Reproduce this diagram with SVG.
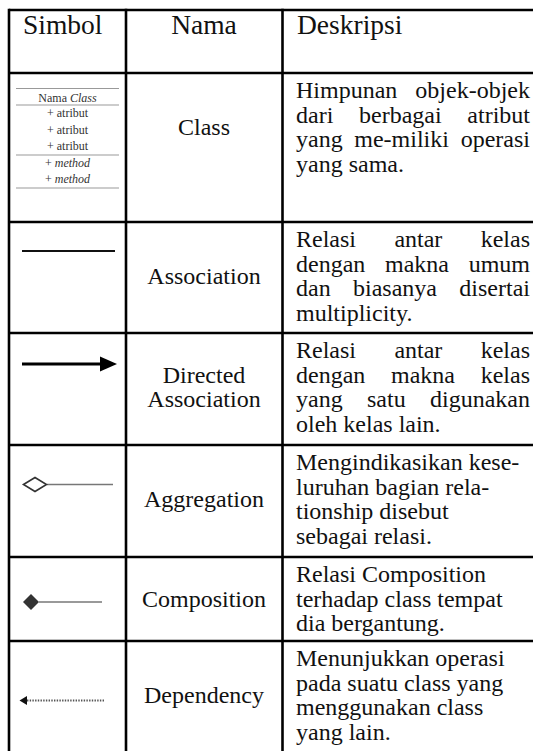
<svg xmlns="http://www.w3.org/2000/svg" width="533" height="751" viewBox="0 0 533 751">
  <style>
    .grid { stroke: #000; stroke-width: 2.6; fill: none; }
    .hd { font-family: "Liberation Serif", "Times New Roman", serif; font-size: 27.5px; fill: #111; }
    .nm { font-family: "Liberation Serif", "Times New Roman", serif; font-size: 24px; fill: #111; text-anchor: middle; }
    .d { font-family: "Liberation Serif", "Times New Roman", serif; font-size: 24px; fill: #111; }
    .e { text-anchor: end; }
    .cls { font-family: "Liberation Serif", "Times New Roman", serif; font-size: 12px; fill: #333; text-anchor: middle; }
    .cline { stroke: #999; stroke-width: 1.2; }
    .thin { stroke: #777; stroke-width: 1.6; fill: none; }
  </style>

  <rect width="533" height="751" fill="#fff"/>

  <!-- table grid -->
  <g id="grid" class="grid">
    <line x1="9" y1="10" x2="533" y2="10"/>
    <line x1="9" y1="73" x2="533" y2="73"/>
    <line x1="9" y1="222" x2="533" y2="222"/>
    <line x1="9" y1="333" x2="533" y2="333"/>
    <line x1="9" y1="445" x2="533" y2="445"/>
    <line x1="9" y1="557" x2="533" y2="557"/>
    <line x1="9" y1="641" x2="533" y2="641"/>
    <line x1="9" y1="8.7" x2="9" y2="751"/>
    <line x1="126" y1="8.7" x2="126" y2="751"/>
    <line x1="282.5" y1="8.7" x2="282.5" y2="751"/>
  </g>

  <!-- header -->
  <g id="header">
    <text class="hd" x="23" y="34">Simbol</text>
    <text class="hd" x="204" y="34" text-anchor="middle">Nama</text>
    <text class="hd" x="297" y="34">Deskripsi</text>
  </g>

  <!-- class box symbol -->
  <g id="row-class">
    <g id="class-symbol">
      <line class="cline" x1="16" y1="88.5" x2="119" y2="88.5" stroke-width="2"/>
      <line class="cline" x1="16" y1="105" x2="119" y2="105"/>
      <line class="cline" x1="16" y1="155" x2="119" y2="155"/>
      <line class="cline" x1="16" y1="188" x2="119" y2="188"/>
      <text class="cls" x="67.5" y="101.5">Nama <tspan font-style="italic">Class</tspan></text>
      <text class="cls" x="67.5" y="117">+ atribut</text>
      <text class="cls" x="67.5" y="133.5">+ atribut</text>
      <text class="cls" x="67.5" y="150">+ atribut</text>
      <text class="cls" x="67.5" y="167">+ <tspan font-style="italic">method</tspan></text>
      <text class="cls" x="67.5" y="183">+ <tspan font-style="italic">method</tspan></text>
    </g>
    <text class="nm" x="204" y="135">Class</text>
    <g class="d">
      <text x="296" y="98">Himpunan</text><text class="e" x="530" y="98">objek-objek</text>
      <text x="296" y="122.5">dari</text><text x="359" y="122.5">berbagai</text><text class="e" x="530" y="122.5">atribut</text>
      <text x="296" y="147">yang</text><text x="354.3" y="147">me-miliki</text><text class="e" x="530" y="147">operasi</text>
      <text x="296" y="171.5">yang sama.</text>
    </g>
  </g>

  <!-- association -->
  <g id="row-association">
    <text class="nm" x="204" y="283.75">Association</text>
    <g class="d">
      <text x="296" y="247">Relasi</text><text x="394.4" y="247">antar</text><text class="e" x="530" y="247">kelas</text>
      <text x="296" y="271.5">dengan</text><text x="385" y="271.5">makna</text><text class="e" x="530" y="271.5">umum</text>
      <text x="296" y="296">dan</text><text x="353" y="296">biasanya</text><text class="e" x="530" y="296">disertai</text>
      <text x="296" y="320.5">multiplicity.</text>
    </g>
  </g>

  <!-- directed association -->
  <g id="row-directed">
    <text class="nm" x="204" y="382.5">Directed</text>
    <text class="nm" x="204" y="407">Association</text>
    <g class="d">
      <text x="296" y="358">Relasi</text><text x="394.4" y="358">antar</text><text class="e" x="530" y="358">kelas</text>
      <text x="296" y="382.5">dengan</text><text x="391" y="382.5">makna</text><text class="e" x="530" y="382.5">kelas</text>
      <text x="296" y="407">yang</text><text x="367" y="407">satu</text><text class="e" x="530" y="407">digunakan</text>
      <text x="296" y="431.5">oleh kelas lain.</text>
    </g>
  </g>

  <!-- aggregation -->
  <g id="row-aggregation">
    <text class="nm" x="204" y="506.75">Aggregation</text>
    <g class="d">
      <text x="296" y="470">Mengindikasikan kese-</text>
      <text x="296" y="494.5">luruhan bagian rela-</text>
      <text x="296" y="519">tionship disebut</text>
      <text x="296" y="543.5">sebagai relasi.</text>
    </g>
  </g>

  <!-- composition -->
  <g id="row-composition">
    <text class="nm" x="204" y="606.5">Composition</text>
    <g class="d">
      <text x="296" y="582">Relasi Composition</text>
      <text x="296" y="606.5">terhadap class tempat</text>
      <text x="296" y="631">dia bergantung.</text>
    </g>
  </g>

  <!-- dependency -->
  <g id="row-dependency">
    <text class="nm" x="204" y="702.75">Dependency</text>
    <g class="d">
      <text x="296" y="666">Menunjukkan operasi</text>
      <text x="296" y="690.5">pada suatu class yang</text>
      <text x="296" y="715">menggunakan class</text>
      <text x="296" y="739.5">yang lain.</text>
    </g>
  </g>

  <!-- relationship line symbols -->
  <g id="connectors">
    <line x1="22" y1="251" x2="115" y2="251" stroke="#111" stroke-width="1.8"/>
    <line x1="22" y1="364" x2="102" y2="364" stroke="#000" stroke-width="3"/>
    <polygon points="100,356.5 117,364 100,371.5" fill="#000"/>
    <line class="thin" x1="47" y1="484.5" x2="113" y2="484.5"/>
    <polygon points="23.5,484.5 35,477.5 46.5,484.5 35,491.5" fill="#fff" stroke="#333" stroke-width="1.6"/>
    <line class="thin" x1="39" y1="602" x2="102" y2="602"/>
    <polygon points="23,602 31,594 39,602 31,610" fill="#333"/>
    <line x1="27" y1="700.5" x2="105" y2="700.5" stroke="#555" stroke-width="2" stroke-dasharray="1.4,1.3"/>
    <polygon points="19.5,700.5 27,696 27,705" fill="#111"/>
  </g>
</svg>
